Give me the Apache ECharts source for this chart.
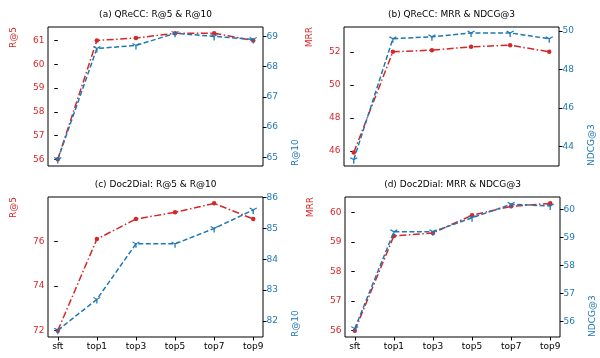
<!DOCTYPE html>
<html><head><meta charset="utf-8">
<script src="https://cdn.jsdelivr.net/npm/echarts@6/dist/echarts.min.js"></script>
<style>html,body{margin:0;padding:0;background:#fff}#c{width:600px;height:358px}</style>
</head><body><div id="c"></div>
<script>
const categories = ['sft','top1','top3','top5','top7','top9'];
// (a) QReCC
const qreccR5  = [56.0, 61.0, 61.1, 61.3, 61.3, 61.0];
const qreccR10 = [64.93, 68.6, 68.7, 69.1, 69.0, 68.9];
// (b) QReCC
const qreccMRR  = [45.9, 52.0, 52.1, 52.3, 52.4, 52.0];
const qreccNDCG = [43.3, 49.6, 49.7, 49.9, 49.9, 49.6];
// (c) Doc2Dial
const d2dR5  = [72.0, 76.1, 77.0, 77.3, 77.7, 77.0];
const d2dR10 = [81.7, 82.7, 84.5, 84.5, 85.0, 85.6];
// (d) Doc2Dial
const d2dMRR  = [56.0, 59.2, 59.3, 59.9, 60.2, 60.3];
const d2dNDCG = [55.74, 59.2, 59.2, 59.7, 60.18, 60.12];

const titles = ['(a) QReCC: R@5 & R@10','(b) QReCC: MRR & NDCG@3','(c) Doc2Dial: R@5 & R@10','(d) Doc2Dial: MRR & NDCG@3'];
const leftNames = ['R@5','MRR','R@5','MRR'];
const rightNames = ['R@10','NDCG@3','R@10','NDCG@3'];
const leftTicks = [[56,57,58,59,60,61],[46,48,50,52],[72,74,76],[56,57,58,59,60]];
const rightTicks = [[65,66,67,68,69],[44,46,48,50],[82,83,84,85,86],[56,57,58,59,60]];
const leftSeries = [qreccR5, qreccMRR, d2dR5, d2dMRR];
const rightSeries = [qreccR10, qreccNDCG, d2dR10, d2dNDCG];
const leftRange = [[55.72,61.565],[45.09,53.5],[71.715,77.985],[55.785,60.515]];
const rightRange = [[64.715,69.31],[42.97,50.21],[81.48,86.02],[55.44,60.44]];

const RED = '#d62728', BLUE = '#1f77b4';
const FONT = 'DejaVu Sans';
const grids = [
  {left:48, top:27, width:215, height:139},
  {left:344, top:27, width:215, height:139},
  {left:48, top:197, width:215, height:140},
  {left:345, top:197, width:215, height:140}
];

const triDown = 'path://M-0.866,-0.5 L0,0 L0.866,-0.5 M0,0 L0,1';

const option = {
  animation:false,
  grid: grids.map(g => Object.assign({show:true, borderColor:'#000', borderWidth:1, backgroundColor:'transparent'}, g)),
  xAxis: grids.map((g,i) => ({
    type:'value', gridIndex:i, min:-0.25, max:5.25,
    axisLine:{show:false}, splitLine:{show:false},
    axisTick:{show:i>=2, length:3.5, lineStyle:{color:'#000'}, customValues:[0,1,2,3,4,5]},
    axisLabel:{show:i>=2, margin:5, color:'#000', fontFamily:FONT, fontSize:9,
      customValues:[0,1,2,3,4,5], formatter:v => categories[Math.round(v)]}
  })),
  yAxis: [],
  series: [],
  graphic: []
};

grids.forEach((g,i) => {
  option.yAxis.push({
    type:'value', gridIndex:i, position:'left', min:leftRange[i][0], max:leftRange[i][1],
    axisLine:{show:false}, splitLine:{show:false},
    axisTick:{show:true, length:3.5, lineStyle:{color:'#000'}, customValues:leftTicks[i]},
    axisLabel:{margin:3.5, color:RED, fontFamily:FONT, fontSize:9, customValues:leftTicks[i]}
  });
  option.yAxis.push({
    type:'value', gridIndex:i, position:'right', min:rightRange[i][0], max:rightRange[i][1],
    axisLine:{show:false}, splitLine:{show:false},
    axisTick:{show:true, length:3.5, lineStyle:{color:'#000'}, customValues:rightTicks[i]},
    axisLabel:{margin:3.5, color:BLUE, fontFamily:FONT, fontSize:9, customValues:rightTicks[i]}
  });
  option.series.push({
    type:'line', xAxisIndex:i, yAxisIndex:2*i,
    data: leftSeries[i].map((v,k)=>[k,v]),
    symbol:'circle', symbolSize:4.5,
    lineStyle:{color:RED, width:1.5, type:[7,2.5,1.5,2.5]},
    itemStyle:{color:RED}, z:2
  });
  option.series.push({
    type:'line', xAxisIndex:i, yAxisIndex:2*i+1,
    data: rightSeries[i].map((v,k)=>[k,v]),
    symbol:triDown, symbolSize:[7,6], symbolOffset:[0,1],
    lineStyle:{color:BLUE, width:1.5, type:[5,2.5]},
    itemStyle:{color:'transparent', borderColor:BLUE, borderWidth:1.2}, z:3
  });
  const cx = g.left + g.width/2;
  option.graphic.push({type:'text', x:cx, y:g.top-12, style:{text:titles[i], fill:'#000', font:'9px "DejaVu Sans"', textAlign:'center', textVerticalAlign:'middle'}});
  option.graphic.push({type:'text', x:g.left-34, y:g.top, rotation:Math.PI/2,
    style:{text:leftNames[i], fill:RED, font:'9px "DejaVu Sans"', textAlign:'right', textVerticalAlign:'middle'}});
  option.graphic.push({type:'text', x:g.left+g.width+33, y:g.top+g.height, rotation:Math.PI/2,
    style:{text:rightNames[i], fill:BLUE, font:'9px "DejaVu Sans"', textAlign:'left', textVerticalAlign:'middle'}});
});

const chart = echarts.init(document.getElementById('c'), null, {renderer:'canvas'});
chart.setOption(option);
</script>
</body></html>
